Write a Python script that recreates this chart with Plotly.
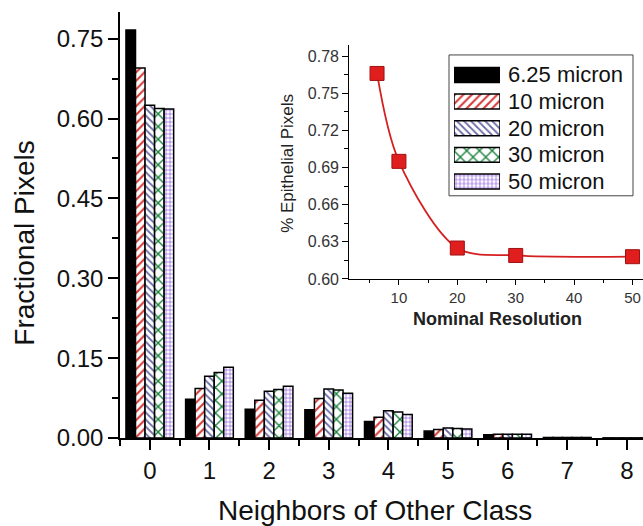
import plotly.graph_objects as go

# ---- data -------------------------------------------------------------
neighbors = [0, 1, 2, 3, 4, 5, 6, 7, 8]
series_names = ["6.25 micron", "10 micron", "20 micron", "30 micron", "50 micron"]

frac_6_25 = [0.766, 0.073, 0.054, 0.053, 0.031, 0.013, 0.006, 0.001, 0.0003]
frac_10 = [0.695, 0.093, 0.071, 0.074, 0.039, 0.016, 0.007, 0.001, 0.0003]
frac_20 = [0.625, 0.116, 0.088, 0.092, 0.051, 0.019, 0.007, 0.001, 0.0003]
frac_30 = [0.619, 0.123, 0.091, 0.090, 0.049, 0.018, 0.007, 0.001, 0.0003]
frac_50 = [0.618, 0.133, 0.097, 0.084, 0.044, 0.017, 0.007, 0.001, 0.0003]

resolution = [6.25, 10, 20, 30, 50]
epithelial = [0.766, 0.695, 0.625, 0.619, 0.618]

# ---- styles -----------------------------------------------------------
W, H = 643, 526
ML, MR, MT, MB = 120, 0, 12, 87.5
PW, PH = W - ML - MR, H - MT - MB
FONT = "Arial, Liberation Sans, sans-serif"

styles = [
    dict(shape="", fg="black", bg="black", size=8, sol=0.3),
    dict(shape="/", fg="#d63a3a", bg="white", size=6, sol=0.35),
    dict(shape="\\", fg="#6a6aa6", bg="white", size=5, sol=0.35),
    dict(shape="x", fg="#17803a", bg="white", size=9, sol=0.28),
    dict(shape="+", fg="#8448e0", bg="white", size=4, sol=0.28),
]


def px_x(x):
    return (x - ML) / PW


def px_y(y):
    return (H - MB - y) / PH


def bar_marker(st):
    return dict(
        color=st["bg"],
        line=dict(color="black", width=1.5),
        pattern=dict(shape=st["shape"], fgcolor=st["fg"], bgcolor=st["bg"],
                     size=st["size"], solidity=st["sol"], fillmode="replace"),
    )


fig = go.Figure()

# main grouped bars
for name, vals, st in zip(series_names, [frac_6_25, frac_10, frac_20, frac_30, frac_50], styles):
    fig.add_trace(go.Bar(x=neighbors, y=vals, name=name, marker=bar_marker(st),
                         xaxis="x", yaxis="y"))

# inset: epithelial fraction vs resolution
fig.add_trace(go.Scatter(
    x=resolution, y=epithelial, mode="lines+markers",
    line=dict(color="#d42020", width=1.8, shape="spline", smoothing=0.9),
    marker=dict(symbol="square", size=14, color="#e01e1e", line=dict(color="#a01010", width=1)),
    xaxis="x2", yaxis="y2", cliponaxis=False,
))

# pattern swatches of the key, one row per series
for i, (name, st) in enumerate(zip(series_names, styles)):
    fig.add_trace(go.Bar(
        x=[1], y=[i], orientation="h", base=0, width=0.56, offset=-0.28,
        marker=bar_marker(st), xaxis="x3", yaxis="y3", hoverinfo="skip",
    ))

axis_common = dict(showline=True, linecolor="black", ticks="outside", showgrid=False,
                   zeroline=False, tickcolor="black")

fig.update_layout(
    width=W, height=H,
    margin=dict(l=ML, r=MR, t=MT, b=MB),
    plot_bgcolor="white", paper_bgcolor="white",
    showlegend=False, barmode="group", bargap=0.2, bargroupgap=0,
    font=dict(family=FONT, color="#111"),
    xaxis=dict(**axis_common, domain=[0, 1], range=[-0.5, 8.27], tickmode="linear", tick0=0, dtick=1,
               linewidth=1.5, ticklen=10, tickwidth=1.5, tickfont=dict(size=24, color="#111"),
               minor=dict(ticks="outside", ticklen=6, tickwidth=1.5, dtick=0.5, tick0=0, tickcolor="black"),
               anchor="y"),
    yaxis=dict(**axis_common, domain=[0, 1], range=[0, 0.80], tickmode="linear", tick0=0, dtick=0.15,
               tickformat=".2f", linewidth=1.5, ticklen=10, tickwidth=1.5,
               tickfont=dict(size=24, color="#111"),
               minor=dict(ticks="outside", ticklen=6, tickwidth=1.5, dtick=0.075, tick0=0, tickcolor="black"),
               anchor="x"),
    xaxis2=dict(**axis_common, domain=[px_x(349.3), 1.0], range=[1.5, 51.8], tickmode="linear",
                tick0=0, dtick=10, linewidth=1.2, ticklen=5, tickwidth=1.2,
                tickfont=dict(size=15, color="#333"),
                minor=dict(ticks="outside", ticklen=3, tickwidth=1, dtick=5, tick0=0, tickcolor="black"),
                anchor="y2"),
    yaxis2=dict(**axis_common, domain=[px_y(279.3), px_y(45)], range=[0.60, 0.789], tickmode="linear",
                tick0=0.6, dtick=0.03, tickformat=".2f", linewidth=1.2, ticklen=6, tickwidth=1.2,
                tickfont=dict(size=16, color="#333"),
                minor=dict(ticks="outside", ticklen=4, tickwidth=1, dtick=0.015, tick0=0.6, tickcolor="black"),
                anchor="x2"),
    xaxis3=dict(domain=[px_x(454), px_x(500)], range=[0, 1], visible=False, anchor="y3", fixedrange=True),
    yaxis3=dict(domain=[px_y(195.05), px_y(61.65)], range=[4.5, -0.5], visible=False, anchor="x3",
                fixedrange=True),
)

# key frame
fig.add_shape(type="rect", xref="paper", yref="paper",
              x0=px_x(449), x1=px_x(633), y0=px_y(196), y1=px_y(55),
              line=dict(color="#444", width=1), fillcolor="rgba(0,0,0,0)", layer="above")

# key labels
row_y = [75, 101.7, 128.3, 155, 181.7]
for name, ry in zip(series_names, row_y):
    fig.add_annotation(text=name, xref="paper", yref="paper", x=px_x(506), y=px_y(ry),
                       xanchor="left", yanchor="middle", showarrow=False,
                       font=dict(size=22, color="#111", family=FONT))

# axis titles
fig.add_annotation(text="Fractional Pixels", xref="paper", yref="paper",
                   x=px_x(25), y=px_y(244), textangle=-90, showarrow=False,
                   xanchor="center", yanchor="middle", font=dict(size=28, color="#111", family=FONT))
fig.add_annotation(text="Neighbors of Other Class", xref="paper", yref="paper",
                   x=px_x(375), y=px_y(511), showarrow=False,
                   xanchor="center", yanchor="middle", font=dict(size=28, color="#111", family=FONT))
fig.add_annotation(text="% Epithelial Pixels", xref="paper", yref="paper",
                   x=px_x(288), y=px_y(164), textangle=-90, showarrow=False,
                   xanchor="center", yanchor="middle", font=dict(size=17, color="#222", family=FONT))
fig.add_annotation(text="<b>Nominal Resolution</b>", xref="paper", yref="paper",
                   x=px_x(497.5), y=px_y(319), showarrow=False,
                   xanchor="center", yanchor="middle", font=dict(size=18, color="#222", family=FONT))

fig.write_html("out.html")
